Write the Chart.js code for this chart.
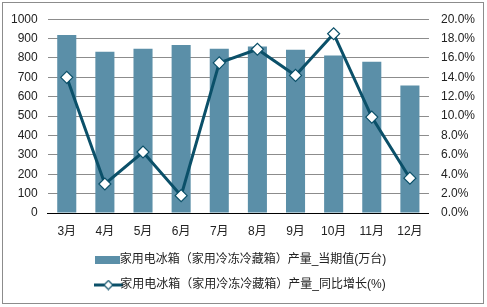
<!DOCTYPE html>
<html lang="zh">
<head>
<meta charset="utf-8" />
<title>家用电冰箱产量</title>
<script src="https://cdn.jsdelivr.net/npm/chart.js"></script>
<style>
  html, body { margin: 0; padding: 0; background: #fff; }
  #box { position: absolute; left: 0; top: 0; width: 487px; height: 307px; }
</style>
</head>
<body>
<div id="box"><canvas id="myChart"></canvas></div>
<script>
// 数据
const months = ['3月', '4月', '5月', '6月', '7月', '8月', '9月', '10月', '11月', '12月'];
const output = [918, 832, 847, 867, 847, 859, 843, 813, 781, 658];      // 当期值(万台)
const growth = [14.0, 3.0, 6.3, 1.8, 15.5, 16.9, 14.2, 18.5, 9.9, 3.6]; // 同比增长(%)
const leftTicks = [0, 1000, 100];
const rightTicks = [0, 20, 2];

const barColor = '#5b8fa8';
const lineColor = '#0b5069';
const fontFamily = '"Liberation Sans", Arial, "Noto Sans CJK SC", sans-serif';

// 图例小图标
function barIcon() {
  var c = document.createElement('canvas');
  c.width = 25; c.height = 8;
  var g = c.getContext('2d');
  g.fillStyle = barColor;
  g.fillRect(0, 0, 25, 8);
  return c;
}
function lineIcon() {
  var c = document.createElement('canvas');
  c.width = 29; c.height = 11;
  var g = c.getContext('2d');
  g.strokeStyle = lineColor;
  g.lineWidth = 3;
  g.beginPath(); g.moveTo(0, 5.5); g.lineTo(29, 5.5); g.stroke();
  g.fillStyle = '#fff';
  g.lineWidth = 1.2;
  g.beginPath();
  g.moveTo(14.5, 1); g.lineTo(19, 5.5); g.lineTo(14.5, 10); g.lineTo(10, 5.5); g.closePath();
  g.fill(); g.stroke();
  return c;
}

const frame = {
  id: 'frame',
  afterDraw(chart) {
    var ctx = chart.ctx;
    ctx.save();
    ctx.strokeStyle = '#8c8c8c';
    ctx.lineWidth = 1;
    ctx.strokeRect(2.5, 2.5, 481, 301);
    ctx.restore();
  }
};

const data = {
  labels: months,
  datasets: [
    {
      type: 'bar',
      label: '家用电冰箱（家用冷冻冷藏箱）产量_当期值(万台)',
      data: output,
      backgroundColor: barColor,
      yAxisID: 'y',
      barPercentage: 0.5,
      categoryPercentage: 1,
      order: 2
    },
    {
      type: 'line',
      label: '家用电冰箱（家用冷冻冷藏箱）产量_同比增长(%)',
      data: growth,
      borderColor: lineColor,
      borderWidth: 3,
      pointStyle: 'rectRot',
      pointRadius: 6,
      pointBackgroundColor: '#fff',
      pointBorderColor: lineColor,
      pointBorderWidth: 1.2,
      tension: 0,
      yAxisID: 'y1',
      order: 1
    }
  ]
};

const config = {
  data: data,
  plugins: [frame],
  options: {
    responsive: true,
    maintainAspectRatio: false,
    animation: false,
    layout: { padding: { left: 1, right: 0, top: 8, bottom: 6 } },
    plugins: {
      tooltip: { enabled: false },
      legend: {
        position: 'bottom',
        labels: {
          font: { family: fontFamily, size: 12 },
          color: '#222',
          usePointStyle: true,
          padding: 13,
          sort: function (a, b) { return a.datasetIndex - b.datasetIndex; },
          generateLabels: function (chart) {
            var items = Chart.defaults.plugins.legend.labels.generateLabels(chart);
            items.forEach(function (it) {
              it.pointStyle = it.datasetIndex === 0 ? barIcon() : lineIcon();
            });
            return items;
          }
        }
      }
    },
    scales: {
      x: {
        grid: { display: false, drawTicks: false },
        border: { color: '#000', width: 1 },
        ticks: { font: { family: fontFamily, size: 12 }, color: '#222', padding: 11 },
        afterFit: function (s) { s.height -= 8.5; }
      },
      y: {
        position: 'left',
        min: leftTicks[0], max: leftTicks[1],
        grid: { color: '#8c8c8c', drawTicks: false },
        border: { display: false },
        ticks: {
          stepSize: leftTicks[2], font: { family: fontFamily, size: 12 }, color: '#222', padding: 10,
          callback: function (v) { return String(v); }
        }
      },
      y1: {
        position: 'right',
        min: rightTicks[0], max: rightTicks[1],
        grid: { display: false, drawTicks: false },
        border: { display: false },
        ticks: {
          stepSize: rightTicks[2],
          font: { family: fontFamily, size: 12 }, color: '#222', padding: 12,
          callback: function (v) { return v.toFixed(1) + '%'; }
        }
      }
    }
  }
};

new Chart(document.getElementById('myChart'), config);
</script>
</body>
</html>
